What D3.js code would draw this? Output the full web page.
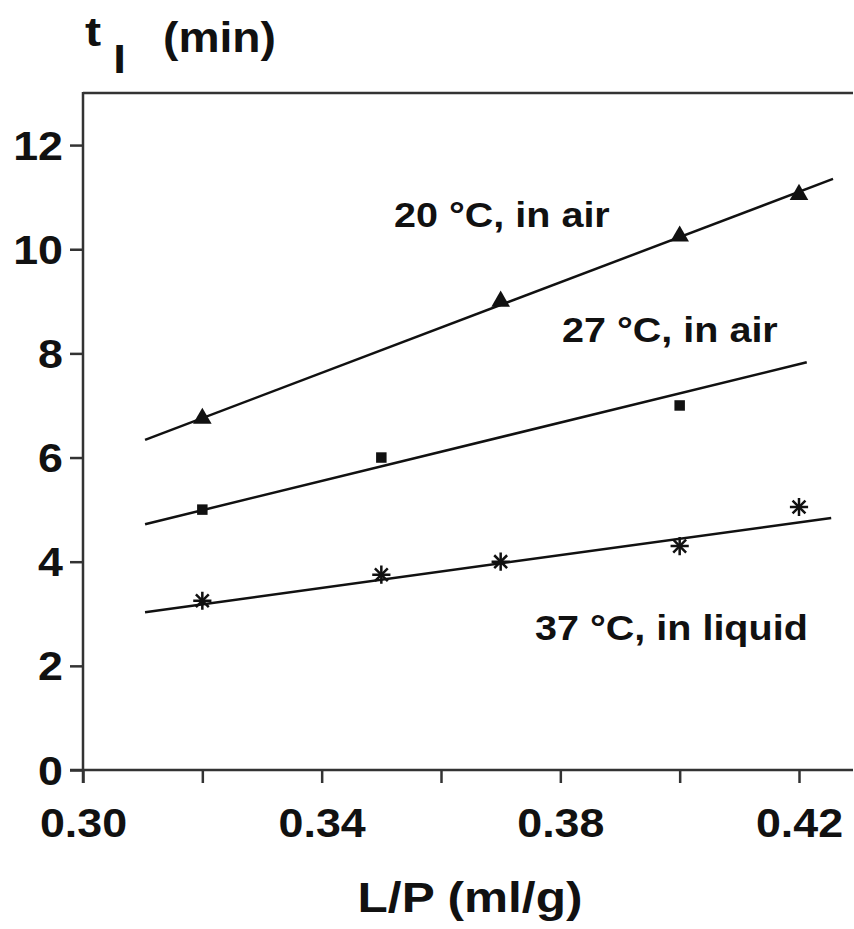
<!DOCTYPE html>
<html>
<head>
<meta charset="utf-8">
<script src="https://cdn.jsdelivr.net/npm/d3@7"></script>
<style>
  body { margin: 0; background: #fff; }
  svg text { font-family: "Liberation Sans", Arial, Helvetica, sans-serif; font-weight: bold; fill: #111; }
</style>
</head>
<body>
<div id="chart"></div>
<script>
// data
var air20x = [0.32, 0.37, 0.40, 0.42];
var air20y = [6.75, 9.0, 10.25, 11.05];
var air20fit = [[0.3104, 6.34], [0.4257, 11.35]];

var air27x = [0.32, 0.35, 0.40];
var air27y = [5.0, 6.0, 7.0];
var air27fit = [[0.3104, 4.72], [0.4213, 7.83]];

var liq37x = [0.32, 0.35, 0.37, 0.40, 0.42];
var liq37y = [3.25, 3.75, 4.0, 4.3, 5.05];
var liq37fit = [[0.3104, 3.03], [0.4254, 4.84]];

var xTicks = [0.30, 0.32, 0.34, 0.36, 0.38, 0.40, 0.42];
var xTickLabels = ["0.30", "", "0.34", "", "0.38", "", "0.42"];
var yTicks = [0, 2, 4, 6, 8, 10, 12];

var svgWidth = 854;
var svgHeight = 929;

var svg = d3.select("#chart")
  .append("svg")
  .attr("width", svgWidth)
  .attr("height", svgHeight);

// scales
var x = d3.scaleLinear().domain([0.30, 0.42]).range([83, 799]);
var y = d3.scaleLinear().domain([0, 13]).range([770, 93]);

var axisColor = "#333";

// the original font is a bit wider than Arial, so stretch text sideways
function wideText(px, py, sx, size, str, anchor) {
  return svg.append("text")
    .attr("transform", `translate(${px}, ${py}) scale(${sx}, 1)`)
    .attr("text-anchor", anchor || "start")
    .style("font-size", size + "px")
    .text(str);
}

// frame: top line and x axis run off to the right edge
svg.append("line")
  .attr("x1", x(0.30)).attr("x2", 853)
  .attr("y1", y(13)).attr("y2", y(13))
  .attr("stroke", axisColor).attr("stroke-width", 2.5);

svg.append("line")
  .attr("x1", x(0.30) - 13).attr("x2", 853)
  .attr("y1", y(0)).attr("y2", y(0))
  .attr("stroke", axisColor).attr("stroke-width", 2.5);

svg.append("line")
  .attr("x1", x(0.30)).attr("x2", x(0.30))
  .attr("y1", y(13) - 1).attr("y2", y(0) + 13)
  .attr("stroke", axisColor).attr("stroke-width", 2.5);

// x axis
var bottomAxis = d3.axisBottom(x)
  .tickValues(xTicks)
  .tickSize(13)
  .tickFormat(function(d, i) { return xTickLabels[i]; });

var xAxis = svg.append("g")
  .attr("transform", `translate(0, ${y(0)})`)
  .call(bottomAxis);
xAxis.select(".domain").remove();
xAxis.selectAll("line").attr("stroke", axisColor).attr("stroke-width", 2.5);
xAxis.selectAll("text")
  .attr("y", null).attr("dy", null)
  .attr("transform", "translate(0, 67) scale(1.12, 1)")
  .style("font-size", "40px").attr("fill", "#111");

// y axis
var leftAxis = d3.axisLeft(y)
  .tickValues(yTicks)
  .tickSize(13)
  .tickFormat(d3.format("d"));

var yAxis = svg.append("g")
  .attr("transform", `translate(${x(0.30)}, 0)`)
  .call(leftAxis);
yAxis.select(".domain").remove();
yAxis.selectAll("line").attr("stroke", axisColor).attr("stroke-width", 2.5);
yAxis.selectAll("text")
  .attr("x", null).attr("dy", null)
  .attr("transform", "translate(-20, 14) scale(1.12, 1)")
  .style("font-size", "40px").attr("fill", "#111");

// fitted lines
var line = d3.line().x(d => x(d[0])).y(d => y(d[1]));
[air20fit, air27fit, liq37fit].forEach(function(fit) {
  svg.append("path")
    .attr("d", line(fit))
    .attr("fill", "none")
    .attr("stroke", "#111")
    .attr("stroke-width", 2.5);
});

// markers
svg.selectAll(".tri")
  .data(air20x)
  .enter()
  .append("path")
  .attr("class", "tri")
  .attr("d", d3.symbol().type(d3.symbolTriangle).size(150))
  .attr("transform", (d, i) => `translate(${x(d)}, ${y(air20y[i])})`)
  .attr("fill", "#111");

svg.selectAll(".sq")
  .data(air27x)
  .enter()
  .append("path")
  .attr("class", "sq")
  .attr("d", d3.symbol().type(d3.symbolSquare).size(110))
  .attr("transform", (d, i) => `translate(${x(d)}, ${y(air27y[i])})`)
  .attr("fill", "#111");

var stars = svg.selectAll(".star")
  .data(liq37x)
  .enter()
  .append("g")
  .attr("class", "star")
  .attr("transform", (d, i) => `translate(${x(d)}, ${y(liq37y[i])})`);
stars.append("path")
  .attr("d", d3.symbol().type(d3.symbolTimes).size(110))
  .attr("fill", "none").attr("stroke", "#111").attr("stroke-width", 2.5);
stars.append("path")
  .attr("d", d3.symbol().type(d3.symbolPlus).size(110))
  .attr("fill", "none").attr("stroke", "#111").attr("stroke-width", 2.5);

// annotations
wideText(394, 227, 1.13, 35, "20 °C, in air");
wideText(562, 342, 1.13, 35, "27 °C, in air");
wideText(535, 640, 1.13, 35, "37 °C, in liquid");

// axis titles
wideText(85, 46, 1.18, 41, "t");
wideText(113, 73, 1.25, 38, "l");
wideText(163, 52, 1.1, 42, "(min)");
wideText(470, 912, 1.18, 42, "L/P (ml/g)", "middle");
</script>
</body>
</html>
